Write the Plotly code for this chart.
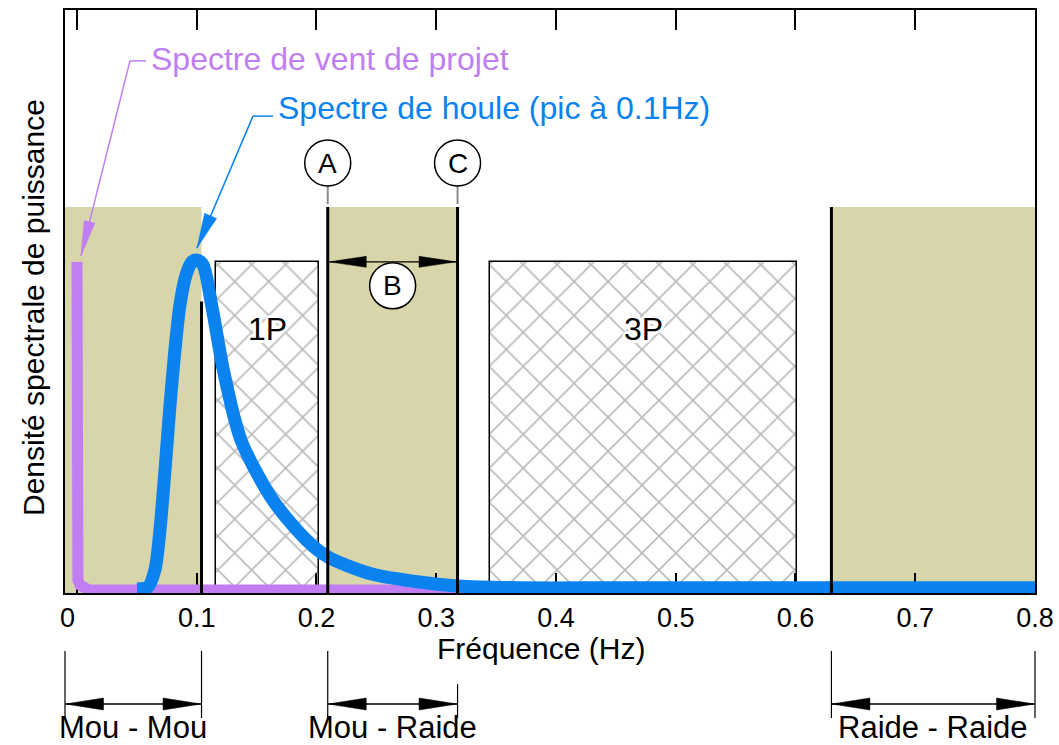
import math
import plotly.graph_objects as go

# ---------------- data ----------------
wave_freq = [0.0501, 0.0593, 0.0651, 0.0693, 0.0735, 0.0777, 0.0818, 0.0860, 0.0910, 0.0960,
             0.1002, 0.1052, 0.1127, 0.1228, 0.1370, 0.1640, 0.1920, 0.2094, 0.2470,
             0.2890, 0.3180, 0.3700, 0.45, 0.55, 0.65, 0.75, 0.80]
wave_psd = [0.0069, 0.0103, 0.0395, 0.108, 0.211, 0.322, 0.417, 0.494, 0.545, 0.568,
            0.571, 0.563, 0.491, 0.377, 0.262, 0.158, 0.090, 0.062, 0.032,
            0.018, 0.012, 0.009, 0.009, 0.009, 0.009, 0.009, 0.009]

wind_freq = [0.0, 0.0, 0.0008, 0.0025, 0.0055, 0.0095, 0.013, 0.03, 0.2, 0.4, 0.6, 0.8]
wind_psd = [0.568, 0.032, 0.022, 0.0135, 0.0085, 0.0058, 0.005, 0.005, 0.005, 0.005, 0.005, 0.005]

zone_labels = ["Mou - Mou", "Mou - Raide", "Raide - Raide"]
zone_start = [-0.01, 0.2094, 0.630]
zone_end = [0.104, 0.3178, 0.800]
zone_height = 0.662

limit_freq = [0.104, 0.2094, 0.3178, 0.630]
limit_top = [0.50, 0.662, 0.662, 0.662]

rotor_labels = ["1P", "3P"]
rotor_start = [0.116, 0.345]
rotor_end = [0.202, 0.601]
rotor_height = 0.568
rotor_label_y = 0.453

tick_vals = [0, 0.1, 0.2, 0.3, 0.4, 0.5, 0.6, 0.7, 0.8]
tick_text = ["0\u2002\u2009", "0.1", "0.2", "0.3", "0.4", "0.5", "0.6", "0.7", "0.8"]

wind_label = "Spectre de vent de projet"
wave_label = "Spectre de houle (pic à 0.1Hz)"
x_title = "Fréquence (Hz)"
y_title = "Densité spectrale de puissance"

# ---------------- styling ----------------
W, H = 1059, 745
L, R, T, B = 65, 24, 10, 152
X0, X1 = -0.01, 0.80
Y0, Y1 = 0.0, 1.0
PW, PH = W - L - R, H - T - B

KHAKI = "#D7D5A9"
PURPLE = "#C07EF2"
BLUE = "#0A82F0"
FONT = "Liberation Sans, Arial, Helvetica, sans-serif"


def fx(f):
    return L + (f - X0) / (X1 - X0) * PW


def fy(v):
    return T + (Y1 - v) / (Y1 - Y0) * PH


def paper(xp, yp):
    return (xp - L) / PW, (H - B - yp) / PH


fig = go.Figure()

# stiffness zones (khaki)
for s, e in zip(zone_start, zone_end):
    fig.add_shape(type="rect", xref="x", yref="y", x0=s, x1=e, y0=0, y1=zone_height,
                  fillcolor=KHAKI, line_width=0, layer="below")

# rotor 1P / 3P hatched boxes
for lab, s, e in zip(rotor_labels, rotor_start, rotor_end):
    fig.add_trace(go.Bar(
        x=[(s + e) / 2], y=[rotor_height], width=[e - s], base=0,
        marker=dict(color="rgba(255,255,255,0)", line=dict(color="black", width=1.5),
                    pattern=dict(shape="x", fgcolor="#757575", bgcolor="rgba(255,255,255,0)",
                                 size=24, solidity=0.13, fillmode="overlay")),
        showlegend=False, hoverinfo="skip"))
    fig.add_annotation(x=(s + e) / 2, y=rotor_label_y, xref="x", yref="y", text=lab,
                       showarrow=False, xanchor="center", yanchor="middle",
                       font=dict(size=32, color="black",
                                 shadow="3px 0 0 white, -3px 0 0 white, 0 3px 0 white, 0 -3px 0 white, 2px 2px 0 white, -2px -2px 0 white, 2px -2px 0 white, -2px 2px 0 white"))

# spectra
fig.add_trace(go.Scatter(x=wind_freq, y=wind_psd, mode="lines",
                         line=dict(color=PURPLE, width=11), showlegend=False, hoverinfo="skip"))
fig.add_trace(go.Scatter(x=wave_freq, y=wave_psd, mode="lines",
                         line=dict(color=BLUE, width=13, shape="spline", smoothing=0.8),
                         showlegend=False, hoverinfo="skip"))

# stiffness limits (black verticals)
for f, top in zip(limit_freq, limit_top):
    fig.add_trace(go.Scatter(x=[f, f], y=[0, top], mode="lines",
                             line=dict(color="black", width=3), showlegend=False, hoverinfo="skip"))


# ---------------- decorations ----------------
def seg(xa, ya, xb, yb, color="black", width=1.3):
    a = paper(xa, ya)
    b = paper(xb, yb)
    fig.add_shape(type="line", xref="paper", yref="paper", x0=a[0], y0=a[1], x1=b[0], y1=b[1],
                  line=dict(color=color, width=width), layer="above")


def head(tx, ty, sx, sy, length, width, color="black"):
    dx, dy = tx - sx, ty - sy
    n = math.hypot(dx, dy)
    ux, uy = dx / n, dy / n
    bx, by = tx - ux * length, ty - uy * length
    nx, ny = -uy, ux
    pts = [(tx, ty), (bx + nx * width / 2, by + ny * width / 2), (bx - nx * width / 2, by - ny * width / 2)]
    path = "M " + " L ".join("%.5f,%.5f" % paper(x, y) for x, y in pts) + " Z"
    fig.add_shape(type="path", xref="paper", yref="paper", path=path, fillcolor=color,
                  line=dict(color=color, width=0.5), layer="above")


def dim(xa, xb, y, length=37, width=11):
    seg(xa, y, xb, y)
    head(xa, y, xb, y, length, width)
    head(xb, y, xa, y, length, width)


def circle(cx, cy, letter, r=23):
    a = paper(cx - r, cy + r)
    b = paper(cx + r, cy - r)
    fig.add_shape(type="circle", xref="paper", yref="paper", x0=a[0], y0=a[1], x1=b[0], y1=b[1],
                  fillcolor="white", line=dict(color="black", width=1.5), layer="above")
    p = paper(cx, cy)
    fig.add_annotation(x=p[0], y=p[1], xref="paper", yref="paper", text=letter, showarrow=False,
                       xanchor="center", yanchor="middle", font=dict(size=28, color="black"))


def text(xp, yp, s, size, color="black", anchor="center", angle=0):
    p = paper(xp, yp)
    fig.add_annotation(x=p[0], y=p[1], xref="paper", yref="paper", text=s, showarrow=False,
                       xanchor=anchor, yanchor="middle", textangle=angle,
                       font=dict(size=size, color=color))


# circled markers A, C and span B
ya = fy(limit_top[1])
cy_ac = ya - 44
for f, letter in [(limit_freq[1], "A"), (limit_freq[2], "C")]:
    seg(fx(f), cy_ac + 23, fx(f), ya - 3, color="#8c8c8c", width=2)
    circle(fx(f), cy_ac, letter)
yb = fy(rotor_height)
dim(fx(limit_freq[1]) + 1.5, fx(limit_freq[2]) - 1.5, yb)
circle((fx(limit_freq[1]) + fx(limit_freq[2])) / 2, yb + 24, "B")

# leader for wind spectrum
tx, ty = fx(wind_freq[0]) + 4, fy(wind_psd[0]) - 6
ex, ey = fx(wind_freq[0]) + 53, fy(wind_psd[0]) - 201
seg(ex, ey, tx, ty, color=PURPLE, width=1.5)
seg(ex, ey, ex + 16, ey, color=PURPLE, width=1.5)
head(tx, ty, ex, ey, 35, 11, PURPLE)
text(ex + 19, ey - 2, wind_label, 32, PURPLE, anchor="left")

# leader for wave spectrum
pk = wave_psd.index(max(wave_psd))
tx, ty = fx(wave_freq[pk]), fy(wave_psd[pk]) - 12
ex, ey = tx + 56, ty - 132
seg(ex, ey, tx, ty, color=BLUE, width=1.5)
seg(ex, ey, ex + 20, ey, color=BLUE, width=1.5)
head(tx, ty, ex, ey, 35, 13, BLUE)
text(ex + 23, ey - 8, wave_label, 32, BLUE, anchor="left")

# bottom dimension lines
dim_y = 704
for i, (lab, s, e) in enumerate(zip(zone_labels, zone_start, zone_end)):
    xs, xe = fx(s), fx(e)
    top_s = 651
    top_e = 684 if i == 1 else 651
    seg(xs, top_s, xs, 718, width=1.2)
    seg(xe, top_e, xe, 718, width=1.2)
    dim(xs + 0.5, xe - 0.5, dim_y, length=38, width=12)
    text((xs + xe) / 2, 727, lab, 31)

# axis titles
text(541, 648, x_title, 30)
text(33, 308, y_title, 30, angle=-90)

fig.update_layout(
    width=W, height=H,
    margin=dict(l=L, r=R, t=T, b=B, autoexpand=False),
    plot_bgcolor="white", paper_bgcolor="white",
    barmode="overlay", bargap=0,
    font=dict(family=FONT, color="black"),
    xaxis=dict(range=[X0, X1], tickmode="array", tickvals=tick_vals, ticktext=tick_text,
               ticks="inside", ticklen=20, tickwidth=2, tickcolor="black",
               showline=True, linecolor="black", linewidth=2, mirror="ticks",
               showgrid=False, zeroline=False, layer="below traces",
               ticklabelstandoff=0,
               tickfont=dict(size=27, color="black")),
    yaxis=dict(range=[Y0, Y1], showticklabels=False, ticks="",
               showline=True, linecolor="black", linewidth=2, mirror=True,
               showgrid=False, zeroline=False, layer="below traces"),
)

fig.write_html("out.html", config={"displayModeBar": False},
               post_script="document.body.style.margin='0';document.body.style.overflow='hidden';")
